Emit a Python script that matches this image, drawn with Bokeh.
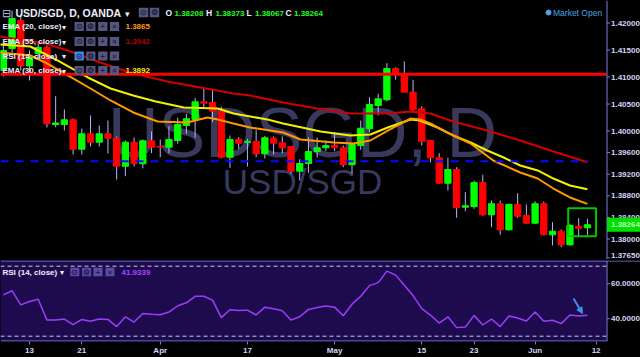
import numpy as np
import pandas as pd
from bokeh.plotting import figure
from bokeh.layouts import column
from bokeh.models import (ColumnDataSource, FixedTicker, Arrow, NormalHead, Range1d)
from bokeh.core.properties import value
from bokeh.embed import file_html
from bokeh.resources import INLINE

# ---------------- data ----------------
TITLE = "USD/SGD, D, OANDA"
WATERMARK_1 = "USDSGD, D"
WATERMARK_2 = "USD/SGD"

dates = pd.bdate_range("2017-03-08", "2017-06-09")

opens = [1.41120, 1.41528, 1.42046, 1.41204, 1.41435, 1.41546, 1.40120, 1.40120, 1.40207, 1.39663,
         1.39948, 1.39793, 1.39948, 1.39867, 1.39348, 1.39793, 1.39393, 1.39819, 1.39713, 1.39700,
         1.39824, 1.40102, 1.40213, 1.40541, 1.40528, 1.40367, 1.39515, 1.39843, 1.39791, 1.39806,
         1.39578, 1.39867, 1.39781, 1.39713, 1.39256, 1.39398, 1.39620, 1.39689, 1.39731, 1.39689,
         1.39374, 1.39731, 1.40041, 1.40472, 1.40578, 1.41157, 1.41059, 1.40719, 1.40411, 1.39824,
         1.39504, 1.39033, 1.39287, 1.38589, 1.38602, 1.39046, 1.38448, 1.38652, 1.38170, 1.38639,
         1.38435, 1.38293, 1.38652, 1.38078, 1.38144, 1.37893, 1.38237, 1.38208]
highs = [1.41602, 1.42231, 1.42157, 1.41491, 1.41639, 1.41583, 1.40644, 1.40398, 1.40231, 1.40046,
         1.40287, 1.40102, 1.40194, 1.39898, 1.39824, 1.39880, 1.39843, 1.39991, 1.39843, 1.40089,
         1.40244, 1.40319, 1.40615, 1.40811, 1.40769, 1.40454, 1.39917, 1.39885, 1.39856, 1.40022,
         1.39911, 1.39898, 1.39898, 1.39713, 1.39478, 1.39885, 1.39880, 1.39824, 1.39978, 1.39731,
         1.39750, 1.40194, 1.40626, 1.40689, 1.41256, 1.41181, 1.41287, 1.40948, 1.40459, 1.39824,
         1.39589, 1.39504, 1.39330, 1.38867, 1.39083, 1.39189, 1.38713, 1.38713, 1.38657, 1.38848,
         1.38639, 1.38700, 1.38694, 1.38311, 1.38176, 1.38281, 1.38385, 1.38373]
lows = [1.41009, 1.41454, 1.41120, 1.40935, 1.41343, 1.40065, 1.40070, 1.40009, 1.39565, 1.39565,
        1.39713, 1.39713, 1.39583, 1.39102, 1.39163, 1.39343, 1.39311, 1.39589, 1.39515, 1.39589,
        1.39763, 1.39948, 1.39874, 1.40411, 1.40163, 1.39491, 1.39319, 1.39670, 1.39343, 1.39515,
        1.39491, 1.39565, 1.39589, 1.39207, 1.39083, 1.39226, 1.39509, 1.39626, 1.39626, 1.39330,
        1.39207, 1.39652, 1.39978, 1.40287, 1.40552, 1.40948, 1.40719, 1.40348, 1.39731, 1.39422,
        1.39022, 1.38898, 1.38393, 1.38515, 1.38559, 1.38430, 1.38219, 1.38078, 1.38157, 1.38393,
        1.38281, 1.38281, 1.38065, 1.37880, 1.37848, 1.37874, 1.38033, 1.38067]
closes = [1.41491, 1.42083, 1.41204, 1.41361, 1.41546, 1.40133, 1.40148, 1.40207, 1.39663, 1.39948,
          1.39793, 1.39948, 1.39867, 1.39348, 1.39793, 1.39393, 1.39819, 1.39700, 1.39700, 1.39843,
          1.40120, 1.40226, 1.40541, 1.40515, 1.40367, 1.39515, 1.39843, 1.39774, 1.39809, 1.39578,
          1.39874, 1.39774, 1.39689, 1.39256, 1.39398, 1.39620, 1.39689, 1.39731, 1.39689, 1.39374,
          1.39750, 1.40052, 1.40491, 1.40596, 1.41157, 1.41046, 1.40719, 1.40393, 1.39811, 1.39504,
          1.39033, 1.39287, 1.38578, 1.38615, 1.39046, 1.38448, 1.38652, 1.38170, 1.38639, 1.38422,
          1.38293, 1.38652, 1.38078, 1.38144, 1.37893, 1.38250, 1.38200, 1.38264]

rsi14 = [53.6, 56.0, 47.9, 49.8, 51.1, 39.2, 39.2, 39.8, 36.6, 39.6, 38.5, 39.8, 39.6, 35.5,
         41.1, 38.1, 43.0, 42.5, 42.3, 43.8, 47.4, 49.1, 52.8, 52.8, 50.6, 40.6, 45.1, 44.7,
         44.9, 42.1, 46.6, 45.7, 44.5, 39.2, 41.1, 45.3, 46.4, 47.2, 46.6, 41.7, 48.3, 52.8,
         58.9, 60.6, 67.2, 64.9, 59.1, 53.2, 45.8, 42.1, 37.5, 41.1, 34.9, 35.3, 41.9, 36.4,
         39.8, 35.5, 41.5, 40.4, 38.7, 43.8, 38.5, 39.1, 37.2, 42.1, 41.5, 41.9339]

# EMA readings: bar position (0 = 13 Mar) and value
ema20_pos = [-3.4, 0.1, 1.8, 4.4, 7.0, 9.3, 11.9, 14.7, 18.1, 20.4, 21.6, 23.4, 25.3, 29.1, 31.1,
             34.9, 37.2, 39.1, 41.1, 43.7, 44.8, 46.0, 47.9, 50.6, 53.2, 56.3, 58.3, 60.1, 62.0, 64.0]
ema20 = [1.41454, 1.41398, 1.41269, 1.41028, 1.40787, 1.40565, 1.40343, 1.40176, 1.40157, 1.40250,
         1.40213, 1.40139, 1.40065, 1.39972, 1.39843, 1.39787, 1.39769, 1.39824, 1.40009, 1.40231,
         1.40213, 1.40139, 1.39972, 1.39769, 1.39454, 1.39231, 1.39120, 1.38935, 1.38769, 1.38650]
ema30_pos = [-3.4, 0.1, 3.2, 6.7, 9.3, 11.9, 14.5, 17.7, 21.6, 23.4, 27.3, 29.1, 33.4, 36.8,
             39.1, 41.1, 43.7, 44.8, 46.8, 48.6, 50.6, 52.5, 54.4, 56.3, 58.3, 60.1, 62.0, 64.0]
ema30 = [1.41602, 1.41565, 1.41306, 1.40991, 1.40787, 1.40657, 1.40546, 1.40435, 1.40417, 1.40324,
         1.40213, 1.40139, 1.39991, 1.39917, 1.39935, 1.40065, 1.40213, 1.40194, 1.40065, 1.39917,
         1.39787, 1.39639, 1.39509, 1.39361, 1.39269, 1.39120, 1.38991, 1.38920]
ema55_pos = [-3.4, 1.8, 4.4, 8.1, 11.9, 13.9, 15.8, 19.6, 23.4, 25.3, 29.1, 33.0, 36.8, 41.1,
             43.7, 46.0, 48.6, 52.5, 56.3, 60.1, 64.0]
ema55 = [1.41750, 1.41620, 1.41491, 1.41269, 1.41065, 1.40991, 1.40917, 1.40806, 1.40694, 1.40657,
         1.40528, 1.40417, 1.40324, 1.40324, 1.40361, 1.40324, 1.40176, 1.40009, 1.39824, 1.39620,
         1.39420]

tick_dates = ["2017-03-13", "2017-03-21", "2017-04-03", "2017-04-17", "2017-05-01",
              "2017-05-15", "2017-05-23", "2017-06-01", "2017-06-12"]
tick_labels = ["13", "21", "Apr", "17", "May", "15", "23", "Jun", "12"]
price_ticks = [1.3765, 1.380, 1.384, 1.388, 1.392, 1.396, 1.400, 1.405, 1.410, 1.415, 1.420]
rsi_ticks = [40, 60]
rsi_bands = [70, 30]
resistance = 1.4105
support = 1.3944
support_end_bar = 64.0
box_bars = (61.8, 65.0)
box_prices = (1.3805, 1.3857)

# ---------------- layout helpers (pixel -> data) ----------------
FULL_W, AXIS_X = 640, 606
MAIN_H, RSI_H = 259, 81
X0, BAR = 29.0, 8.717


def bx(px):
    return (px - X0) / BAR


def mp(py):
    return 1.40 + (130.5 - py) / 5400.0


def rp(py):  # py relative to top of RSI frame
    return 40 + (58.2 - py) / 1.75


bars = np.busday_count("2017-03-13", dates.values.astype("datetime64[D]")).astype(float)
tick_pos = [int(v) for v in np.busday_count("2017-03-13", np.array(tick_dates, dtype="datetime64[D]"))]

FONT = "Liberation Sans"
AX = "#7c7ce0"
AXLAB = "#d4d4f6"
WH = "#eeeeff"


def add_texts(fig, items, yconv, align="left"):
    src = ColumnDataSource(dict(
        x=[bx(i[0]) for i in items], y=[yconv(i[1]) for i in items],
        text=[i[2] for i in items], color=[i[3] for i in items],
        size=[i[4] for i in items], style=[i[5] for i in items]))
    fig.text(x="x", y="y", text="text", text_color="color", text_font_size="size",
             text_font_style="style", text_font=value(FONT), text_baseline="middle",
             text_align=align, source=src)


def add_boxes(fig, centers, yc, w, h, fills, syms, sym_color, yconv):
    fig.rect(x=[bx(c) for c in centers], y=[yconv(yc)] * len(centers), width=w, height=h,
             width_units="screen", height_units="screen", fill_color=fills, line_color=None)
    add_texts(fig, [(c, yc + 0.3, s, sym_color, "7.5px", "bold") for c, s in zip(centers, syms)],
              yconv, align="center")


def right_axis(fig, ticks, labels, label_ys, ytop, ybot):
    fig.segment(x0=[bx(AXIS_X + 0.5)], y0=[ytop], x1=[bx(AXIS_X + 0.5)], y1=[ybot],
                line_color=AX, line_width=1)
    fig.segment(x0=[bx(AXIS_X + 0.5)] * len(ticks), y0=ticks,
                x1=[bx(AXIS_X + 3.5)] * len(ticks), y1=ticks, line_color=AX, line_width=1)
    fig.text(x=[bx(AXIS_X + 4.5)] * len(ticks), y=label_ys, text=labels, text_color=AXLAB,
             text_font_size="8px", text_font_style="bold", text_font=value(FONT),
             text_baseline="middle", text_align="left")


# ---------------- main price panel ----------------
main = figure(frame_width=FULL_W, frame_height=MAIN_H,
              x_range=Range1d(bx(0), bx(FULL_W)), y_range=Range1d(mp(MAIN_H), mp(0)),
              y_axis_location=None, x_axis_location=None, toolbar_location=None,
              output_backend="svg", background_fill_color="black", border_fill_color="black",
              outline_line_color=None, min_border_left=0, min_border_right=0,
              min_border_top=0, min_border_bottom=0)
main.grid.visible = False

# watermark
main.text(x=[bx(302)], y=[mp(132.5)], text=[WATERMARK_1], text_align="center",
          text_baseline="alphabetic", text_font_size="70px", text_font=value(FONT),
          text_color="#39395e")
main.text(x=[bx(302)], y=[mp(181)], text=[WATERMARK_2], text_align="center",
          text_baseline="alphabetic", text_font_size="35px", text_font=value(FONT),
          text_color="#39395e")

o = np.array(opens); c = np.array(closes)
up = c >= o
cs = ColumnDataSource(dict(x=bars, high=highs, low=lows, top=np.maximum(o, c),
                           bottom=np.minimum(o, c),
                           color=np.where(up, "#00ff00", "#ff0000")))
main.segment(x0="x", y0="high", x1="x", y1="low", line_color="#b4b4ff", line_width=1, source=cs)
main.vbar(x="x", width=0.72, top="top", bottom="bottom", fill_color="color", line_color="color",
          line_width=1, source=cs)

main.line(ema55_pos, ema55, line_color="#d00000", line_width=2)
main.line(ema30_pos, ema30, line_color="#f2f200", line_width=2)
main.line(ema20_pos, ema20, line_color="#ff9900", line_width=2)

main.line([bx(0), bx(AXIS_X)], [resistance, resistance], line_color="#ff0000", line_width=3)
main.line([bx(0), support_end_bar], [support, support], line_color="#0a0aff", line_width=2,
          line_dash="8 7")
main.quad(left=[box_bars[0]], right=[box_bars[1]], bottom=[box_prices[0]], top=[box_prices[1]],
          fill_color=None, line_color="#00c800", line_width=2)

# right price axis, drawn by hand so the last-price badge can sit on it
price_label_y = [max(t, mp(MAIN_H - 4.5)) for t in price_ticks]
right_axis(main, price_ticks, ["%.5f" % t for t in price_ticks], price_label_y, mp(0), mp(MAIN_H))
main.rect(x=[bx(623.5)], y=[closes[-1]], width=34, height=14, width_units="screen",
          height_units="screen", fill_color="#00e000", line_color=None)
main.text(x=[bx(AXIS_X + 4.5)], y=[closes[-1]], text=["%.5f" % closes[-1]], text_color="#b8ffb8",
          text_font_size="8px", text_font_style="bold", text_font=value(FONT),
          text_baseline="middle", text_align="left")

# legend (top-left)
fmt5 = lambda v: "%.5f" % v
GR = "#22ff22"
top_items = [
    (1, 12.5, "\u229f", "#b8b8f0", "11px", "normal"),
    (15, 12.5, TITLE, WH, "10.5px", "bold"),
    (124, 13, "\u25be", WH, "9px", "normal"),
    (165, 12.5, "O", WH, "8.5px", "bold"), (174, 12.5, fmt5(opens[-1]), GR, "8px", "bold"),
    (205.5, 12.5, "H", WH, "8.5px", "bold"), (215, 12.5, fmt5(highs[-1]), GR, "8px", "bold"),
    (246, 12.5, "L", WH, "8.5px", "bold"), (254.5, 12.5, fmt5(lows[-1]), GR, "8px", "bold"),
    (285, 12.5, "C", WH, "8.5px", "bold"), (293.5, 12.5, fmt5(closes[-1]), GR, "8px", "bold"),
    (552.5, 12, "Market Open", "#47a6e6", "8.5px", "normal"),
]
legend_lines = [
    ("EMA (20, close)", 26, "%.4f" % ema20[-1], "#ff9900", False),
    ("EMA (55, close)", 41, "%.4f" % ema55[-1], "#b40000", False),
    ("RSI (14, close)", 55.5, None, None, True),
    ("EMA (30, close)", 70, "%.4f" % ema30[-1], "#f0f000", False),
]
for name, yy, val, vc, hl in legend_lines:
    top_items.append((2, yy, name, WH, "8px", "bold"))
    top_items.append((61.5, yy + 0.5, "\u25be", WH, "8px", "normal"))
    if val:
        top_items.append((125, yy, val, vc, "8px", "bold"))
    fills = ["#3f86f2" if hl else "#55557f", "#55557f", "#55557f", "#55557f"]
    add_boxes(main, [78.7, 90.3, 102.3, 114.0], yy, 9.3, 9, fills,
              ["\u2299", "\u2699", "+", "\u00d7"], "#20203a", mp)
add_boxes(main, [143.0, 154.0], 12, 9.5, 9.5, ["#55557f", "#55557f"], ["\u2299", "\u2699"],
          "#20203a", mp)
add_texts(main, top_items, mp)
main.scatter(x=[bx(548)], y=[mp(12)], size=5, color="#47a6e6")

# ---------------- RSI panel ----------------
rsi = figure(frame_width=FULL_W, frame_height=RSI_H, x_range=main.x_range,
             y_range=Range1d(rp(RSI_H), rp(0)), y_axis_location=None,
             toolbar_location=None, output_backend="svg",
             background_fill_color="black", border_fill_color="black",
             outline_line_color=None, min_border_left=0, min_border_right=0,
             min_border_top=1, min_border_bottom=0)
rsi.grid.visible = False
rsi.quad(left=[bx(-2)], right=[bx(AXIS_X)], bottom=[rp(RSI_H + 2)], top=[rp(-2)],
         fill_color="#1e0b4e", line_color=None)
xa = rsi.xaxis[0]
xa.axis_line_color = None
xa.major_tick_line_color = AX
xa.minor_tick_line_color = None
xa.major_tick_out = 3
xa.major_tick_in = 0
xa.major_label_standoff = 1
xa.major_label_text_color = AXLAB
xa.major_label_text_font = FONT
xa.major_label_text_font_size = "8px"
xa.major_label_text_font_style = "bold"
xa.ticker = FixedTicker(ticks=tick_pos)
xa.major_label_overrides = {p: l for p, l in zip(tick_pos, tick_labels)}

for b in rsi_bands:
    rsi.line([bx(0), bx(AXIS_X)], [b, b], line_color="#c8c8ee", line_width=1, line_dash="4 3")
rsi.line(bars, rsi14, line_color="#9b3cff", line_width=1.5)

# panel borders and right axis
rsi.segment(x0=[bx(0)], y0=[rp(0.5)], x1=[bx(FULL_W)], y1=[rp(0.5)], line_color=AX, line_width=1)
rsi.segment(x0=[bx(0)], y0=[rp(RSI_H - 0.5)], x1=[bx(AXIS_X + 0.5)], y1=[rp(RSI_H - 0.5)],
            line_color=AX, line_width=1)
right_axis(rsi, rsi_ticks, ["%.4f" % t for t in rsi_ticks], rsi_ticks, rp(0), rp(RSI_H))

add_boxes(rsi, [74.3, 86.1, 97.5, 109.5], 11.5, 9, 8.5, ["#5a4ca0"] * 4,
          ["\u2299", "\u2699", "+", "\u00d7"], "#241a58", rp)
add_texts(rsi, [(2, 11.5, "RSI (14, close)", WH, "8px", "bold"),
                (59.5, 12, "\u25be", WH, "8px", "normal"),
                (121, 11.5, "%.4f" % rsi14[-1], "#a445ff", "8px", "bold")], rp)

arrow_col = "#3d8fe8"
rsi.add_layout(Arrow(end=NormalHead(size=6, fill_color=arrow_col, line_color=arrow_col),
                     x_start=bx(573), y_start=rp(38), x_end=bx(582), y_end=rp(53),
                     line_color=arrow_col, line_width=2))

layout = column(main, rsi, spacing=0)
layout.styles = {"background-color": "black"}
open("out.html", "w").write(file_html(layout, INLINE))
